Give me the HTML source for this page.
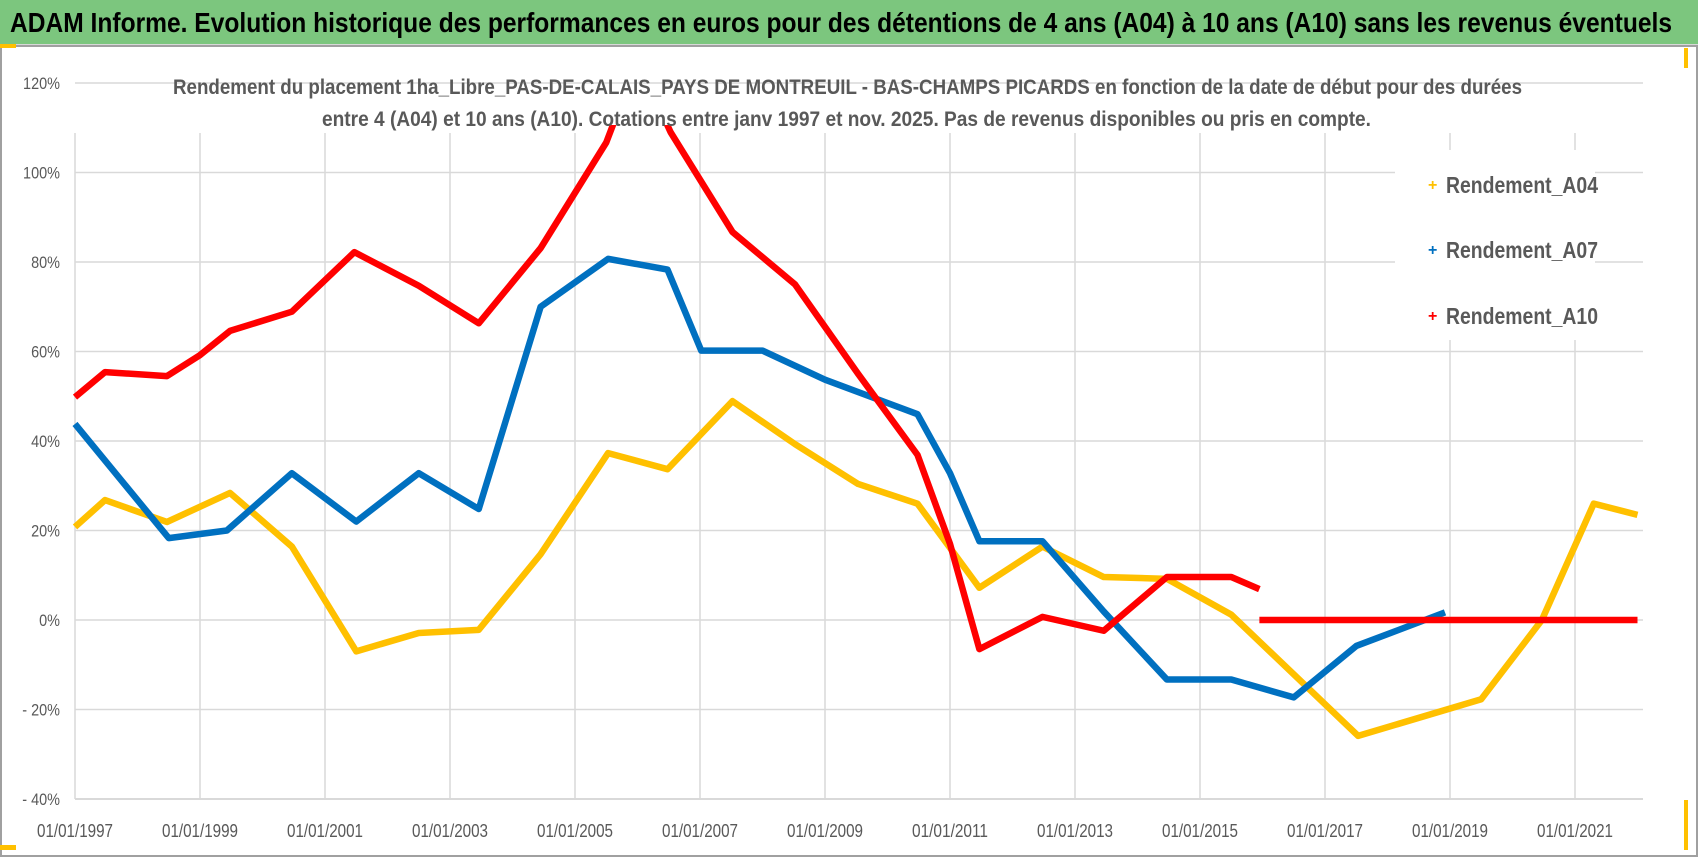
<!DOCTYPE html>
<html><head><meta charset="utf-8">
<style>
body{margin:0;background:#fff;}
#wrap{position:relative;width:1698px;height:857px;overflow:hidden;font-family:"Liberation Sans",sans-serif;}
#bar{position:absolute;left:0;top:0;width:1698px;height:44px;background:#7cc67e;border-bottom:2px solid #d8d8d8;}
</style></head><body>
<div id="wrap">
<div id="bar"></div>
<svg id="svg" width="1698" height="857" style="position:absolute;left:0;top:0">
<text x="10" y="32" font-size="28" font-weight="bold" fill="#000" textLength="1662" lengthAdjust="spacingAndGlyphs" font-family="Liberation Sans, sans-serif">ADAM Informe. Evolution historique des performances en euros pour des détentions de 4 ans (A04) à 10 ans (A10) sans les revenus éventuels</text>
<rect x="1" y="46" width="1696" height="810" fill="none" stroke="#a0a0a0" stroke-width="2"/>
<rect x="0" y="44" width="16" height="4" fill="#ffc000"/>
<rect x="1684" y="48" width="4" height="20" fill="#ffc000"/>
<rect x="1684" y="800" width="4" height="50" fill="#ffc000"/>
<rect x="0" y="845" width="16" height="5" fill="#ffc000"/>
<g id="grid"></g>
<g id="series"></g>
<g id="labels"></g>
<text x="173" y="94" font-size="21" font-weight="bold" fill="#595959" textLength="1349" lengthAdjust="spacingAndGlyphs" font-family="Liberation Sans, sans-serif">Rendement du placement 1ha_Libre_PAS-DE-CALAIS_PAYS DE MONTREUIL - BAS-CHAMPS PICARDS en fonction de la date de début pour des durées</text>
<text x="322" y="126" font-size="21" font-weight="bold" fill="#595959" textLength="1049" lengthAdjust="spacingAndGlyphs" font-family="Liberation Sans, sans-serif">entre 4 (A04) et 10 ans (A10). Cotations entre janv 1997 et nov. 2025. Pas de revenus disponibles ou pris en compte.</text>
<rect x="1395" y="150" width="200" height="190" fill="#fff"/>
<g id="legend"></g>
</svg>
</div>
<script>
const yTicks=[120,100,80,60,40,20,0,-20,-40];
const yTickLabels=["120%","100%","80%","60%","40%","20%","0%","- 20%","- 40%"];
const xTicks=[1997,1999,2001,2003,2005,2007,2009,2011,2013,2015,2017,2019,2021];
const seriesNames=["Rendement_A04","Rendement_A07","Rendement_A10"];
const seriesColors=["#ffc000","#0070c0","#ff0000"];
const a04Years=[1997.0,1997.48,1998.47,1999.48,2000.47,2001.5,2002.5,2003.46,2004.45,2005.53,2006.48,2007.52,2008.52,2009.53,2010.48,2011.47,2012.48,2013.46,2014.47,2015.5,2017.53,2019.5,2020.47,2021.3,2022.0];
const a04Values=[20.8,26.8,21.9,28.4,16.4,-7,-2.9,-2.2,14.7,37.3,33.7,48.9,39.3,30.4,26,7.2,16.4,9.6,9.2,1.2,-25.9,-17.7,0,26,23.5];
const a07Years=[1997.0,1998.5,1999.43,2000.47,2001.5,2002.5,2003.46,2004.45,2005.53,2006.48,2007.02,2008.0,2009.0,2010.48,2011.0,2011.47,2012.48,2013.46,2014.47,2015.5,2016.5,2017.5,2018.92];
const a07Values=[43.8,18.3,20,32.8,22,32.8,24.8,70,80.7,78.3,60.2,60.2,53.7,46,32.8,17.6,17.6,1.9,-13.3,-13.3,-17.3,-5.8,1.7];
const a10Years=[1997.0,1997.48,1998.47,1999.0,1999.48,2000.47,2001.47,2002.5,2003.46,2004.45,2005.5,2006.0,2006.53,2007.52,2008.52,2009.53,2010.48,2011.0,2011.47,2012.48,2013.46,2014.47,2015.5,2015.95];
const a10Values=[49.8,55.4,54.5,59.2,64.6,68.9,82.2,74.7,66.3,83.1,106.7,125,109,86.7,75,55,36.9,17,-6.5,0.7,-2.4,9.6,9.6,6.9];
const a10bYears=[2015.95,2022.0];
const a10bValues=[0,0];

const NS="http://www.w3.org/2000/svg";
const X0=75,X1=1643,Y0=83,Y1=799;
function xs(yr){return X0+(yr-1997)*62.5;}
function ys(v){return 620-v*4.475;}
function mk(tag,attrs,parent){const e=document.createElementNS(NS,tag);for(const k in attrs)e.setAttribute(k,attrs[k]);parent.appendChild(e);return e;}
const grid=document.getElementById('grid'),labels=document.getElementById('labels'),series=document.getElementById('series'),legend=document.getElementById('legend');
const F="Liberation Sans, sans-serif";
yTicks.forEach((t,i)=>{
  const l=mk('line',{x1:X0,x2:X1,y1:ys(t),y2:ys(t),stroke:'#d9d9d9','stroke-width':1.5},grid);
  
  
  const tx=mk('text',{x:60,y:ys(t)+6,'text-anchor':'end','font-size':17,fill:'#595959','font-family':F,transform:'translate(60,0) scale(0.85,1) translate(-60,0)'},labels);
  tx.textContent=yTickLabels[i];
  
  
});
xTicks.forEach(t=>{
  const l=mk('line',{x1:xs(t),x2:xs(t),y1:Y0+50,y2:Y1,stroke:'#d9d9d9','stroke-width':1.5},grid);
  
  
  const tx=mk('text',{x:xs(t)-38,y:837,'font-size':18,fill:'#595959','font-family':F,textLength:76,lengthAdjust:'spacingAndGlyphs'},labels);
  tx.textContent='01/01/'+t;
  
  
});
const ax=mk('line',{x1:X0,x2:X1,y1:Y1,y2:Y1,stroke:'#d9d9d9','stroke-width':2},grid);


const cp=mk('clipPath',{id:'clip'},document.getElementById('svg'));
mk('rect',{x:0,y:Y0+42,width:1698,height:Y1-Y0},cp);
function draw(yrs,vals,color,name){
  const p=mk('polyline',{points:yrs.map((y,i)=>xs(y)+','+ys(vals[i])).join(' '),fill:'none',stroke:color,'stroke-width':6.5,'stroke-linejoin':'round','clip-path':'url(#clip)'},series);
  
  
}
draw(a04Years,a04Values,seriesColors[0],'series-a04');
draw(a07Years,a07Values,seriesColors[1],'series-a07');
draw(a10Years,a10Values,seriesColors[2],'series-a10');
draw(a10bYears,a10bValues,seriesColors[2],'series-a10-flat');
const legY=[184,249,315];
seriesNames.forEach((n,i)=>{
  const m=mk('text',{x:1428,y:legY[i]+6,'font-size':16,'font-weight':'bold',fill:seriesColors[i],'font-family':F},legend);
  m.textContent='+';
  
  
  const t=mk('text',{x:1446,y:legY[i]+9,'font-size':23,'font-weight':'bold',fill:'#595959','font-family':F,textLength:152,lengthAdjust:'spacingAndGlyphs'},legend);
  t.textContent=n;
  
  
});
</script>
</body></html>
